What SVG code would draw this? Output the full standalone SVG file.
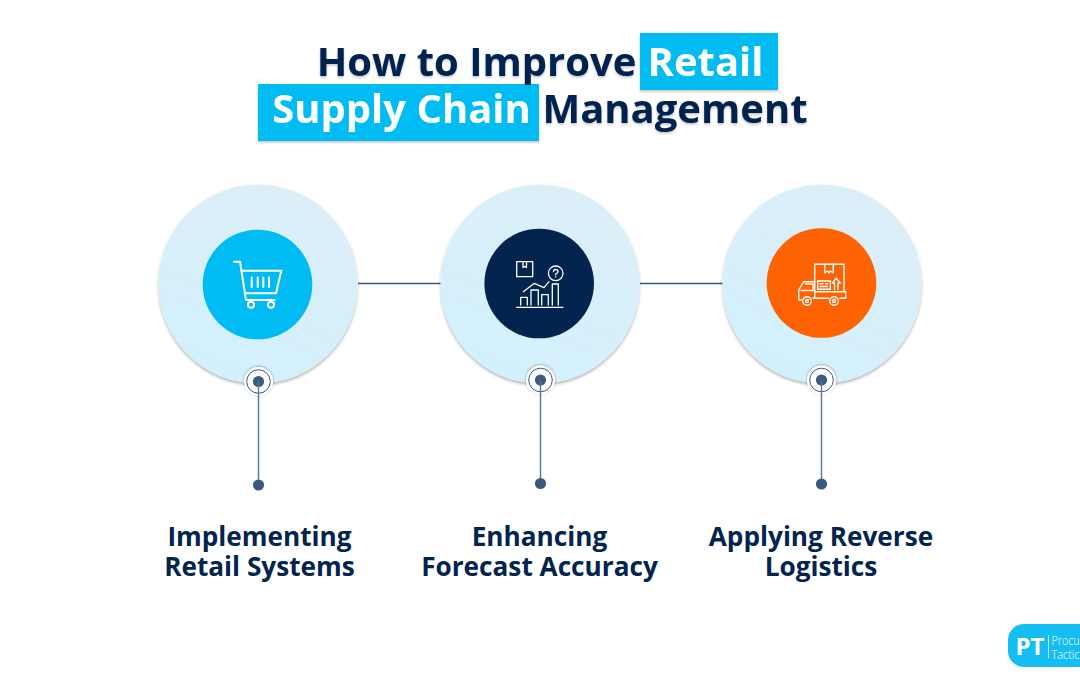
<svg xmlns="http://www.w3.org/2000/svg" width="1080" height="675" viewBox="0 0 1080 675">
<style>
.t{font-family:"Open Sans","Noto Sans",sans-serif;font-weight:700;text-anchor:middle}
.h{font-size:40px;fill:#02244f}
.w{fill:#fff}
.l{font-size:26.200px;fill:#02244f}
.i{fill:none;stroke:#fff;stroke-width:1.5;stroke-linejoin:round;stroke-linecap:round}
.c{fill:url(#g);filter:url(#s)}
.p{fill:#fff;filter:url(#s2)}
.ln{stroke:#5a769a;stroke-width:1.4;fill:none}
.r{fill:none;stroke:#3a5a80;stroke-width:1}
.d{fill:#3a5a80}
.k{font-family:"Open Sans",sans-serif;font-weight:300;font-size:12.500px;fill:#fff}
</style>
<defs>
<linearGradient id="g" x1="0.7" y1="0" x2="0.3" y2="1"><stop offset="0" stop-color="#dceef8"/><stop offset="1" stop-color="#d2f1fd"/></linearGradient>
<filter id="s" x="-10%" y="-10%" width="120%" height="120%"><feDropShadow dx="0" dy="2" stdDeviation="1.500" flood-color="#000" flood-opacity=".3"/></filter>
<filter id="s2" x="-30%" y="-30%" width="160%" height="160%"><feDropShadow dx="0" dy="-0.500" stdDeviation="1.200" flood-color="#000" flood-opacity=".4"/></filter>
<filter id="ts" x="-5%" y="-10%" width="110%" height="130%"><feDropShadow dx="0" dy="1.500" stdDeviation="1" flood-color="#000" flood-opacity=".25"/></filter>
</defs>
<rect width="1080" height="675" fill="#fff"/>
<g id="title" filter="url(#ts)">
<rect x="640" y="33" width="138" height="57" fill="#00bcf2"/>
<rect x="258" y="84" width="281" height="57" fill="#00bcf2"/>
<text class="t h" x="476.500" y="76">How to Improve</text>
<text class="t h w" x="705.500" y="76">Retail</text>
<text class="t h w" x="401.500" y="123">Supply Chain</text>
<text class="t h" x="675" y="123">Management</text>
</g>
<g id="connectors">
<line class="ln" x1="358" y1="283.500" x2="441" y2="283.500" style="stroke:#3b5678"/>
<line class="ln" x1="640" y1="283.500" x2="723" y2="283.500" style="stroke:#3b5678"/>
</g>
<g id="node-1">
<circle class="c" cx="258" cy="284" r="99.500"/>
<circle cx="257.500" cy="284.500" r="54.800" fill="#00bcf2"/>
<g class="i" style="stroke-width:2">
<path d="M234 261.700H240L246 300H274.700"/><path d="M241.500 270.700H281.300L276 293.300H245"/>
<path d="M251.700 277.500V287M257.700 277.500V287M263.300 277.500V287M269 277.500V287"/>
<circle cx="251" cy="304.700" r="3"/><circle cx="271" cy="304.700" r="3"/>
</g>
<circle class="p" cx="258.500" cy="381.500" r="14.500"/>
<circle class="r" cx="258.500" cy="381.500" r="11.800"/>
<circle class="d" cx="258.500" cy="381.500" r="5.600"/>
<line class="ln" x1="258.500" y1="381.500" x2="258.500" y2="485"/>
<circle class="d" cx="258.500" cy="485" r="5.600"/>
<text class="t l" x="259.500" y="546">Implementing</text>
<text class="t l" x="259.500" y="576">Retail Systems</text>
</g>
<g id="node-2">
<circle class="c" cx="540" cy="284" r="99.500"/>
<circle cx="539.200" cy="283.500" r="54.800" fill="#02244f"/>
<g class="i" style="stroke-width:1.300">
<rect x="516.700" y="261.700" width="16" height="15"/><path d="M523 261.700V267.500L524.800 266.300L526.500 267.500V261.700"/>
<circle cx="555.700" cy="273.300" r="7.300"/><path d="M553.500 271.500Q553.700 269.500 555.700 269.500Q558 269.500 558 271.500Q558 273 555.700 274V275M555.700 276.800V277"/>
<path d="M523.300 291.700L534.300 283.300L544 287.700L549 281.700"/>
<path d="M516.700 307.300H563"/>
<path d="M520.700 305V297.300H527.300V305M531 305V290H538.300V305M541.700 305V294.700H548.300V305M552.300 305V284H558.300V305"/>
</g>
<circle class="p" cx="540.500" cy="380" r="14.500"/>
<circle class="r" cx="540.500" cy="380" r="11.800"/>
<circle class="d" cx="540.500" cy="380" r="5.600"/>
<line class="ln" x1="540.500" y1="380" x2="540.500" y2="483.500"/>
<circle class="d" cx="540.500" cy="483.500" r="5.600"/>
<text class="t l" x="539.500" y="546">Enhancing</text>
<text class="t l" x="539.500" y="576">Forecast Accuracy</text>
</g>
<g id="node-3">
<circle class="c" cx="822" cy="284" r="99.500"/>
<circle cx="821.500" cy="283" r="54.800" fill="#ff6200"/>
<g class="i" style="stroke-width:1.400">
<path d="M814.700 291.700V264.300H844V291.700"/><path d="M824.700 264.300V273L827.500 271L829 273L830.500 271L833.300 273V264.300"/>
<rect x="817.700" y="281" width="12.600" height="8.300"/><path d="M820 283.700H823M820 286.500H827.500M825.500 283.700H827.500"/>
<path d="M834.500 289.300V283H832.300L836.300 278.300L840.300 283H838V289.300"/>
<path d="M814.700 291.700H845.700V298.300H840M828.500 298.300H813M814.700 291.700V298.300"/>
<path d="M814.700 281.700H803.700L798.700 290V300H802"/><path d="M805.500 284H813V290.500H801"/>
<circle cx="807" cy="301" r="4.300"/><circle cx="807" cy="301" r="1.500"/><circle cx="834" cy="301" r="4.300"/><circle cx="834" cy="301" r="1.500"/>
</g>
<circle class="p" cx="821.500" cy="380" r="14.500"/>
<circle class="r" cx="821.500" cy="380" r="11.800"/>
<circle class="d" cx="821.500" cy="380" r="5.600"/>
<line class="ln" x1="821.500" y1="380" x2="821.500" y2="484"/>
<circle class="d" cx="821.500" cy="484" r="5.600"/>
<text class="t l" x="821" y="546">Applying Reverse</text>
<text class="t l" x="821" y="576">Logistics</text>
</g>
<g id="logo">
<rect x="1008" y="624" width="100" height="43" rx="16" fill="#14bdf2"/>
<text x="1030" y="654.500" style="font-family:'Open Sans',sans-serif;font-weight:700;font-size:24px;text-anchor:middle" fill="#fff">PT</text>
<line x1="1048.500" y1="635" x2="1048.500" y2="658" stroke="#fff" stroke-width=".8"/>
<text class="k" x="1051.500" y="644.500" textLength="28" lengthAdjust="spacingAndGlyphs">Procu</text>
<text class="k" x="1051.500" y="658.500" textLength="28" lengthAdjust="spacingAndGlyphs">Tactic</text>
</g>
</svg>
